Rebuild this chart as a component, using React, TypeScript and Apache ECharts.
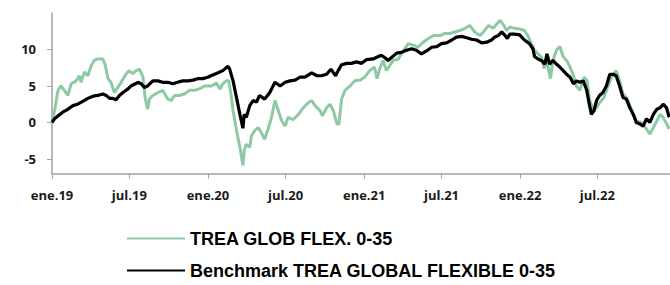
import React, { useEffect, useRef } from "react";
import * as echarts from "echarts";

const fundName = "TREA GLOB FLEX. 0-35";
const benchName = "Benchmark TREA GLOBAL FLEXIBLE 0-35";

const fundDates = [
  "2019-01-01","2019-01-07","2019-01-15","2019-01-22","2019-01-30","2019-02-07","2019-02-15","2019-02-27","2019-03-06","2019-03-10",
  "2019-03-18","2019-03-26","2019-04-03","2019-04-10","2019-04-18","2019-04-30","2019-05-05","2019-05-12","2019-05-19","2019-05-27",
  "2019-06-04","2019-06-12","2019-06-24","2019-07-01","2019-07-09","2019-07-17","2019-07-25","2019-08-02","2019-08-07","2019-08-13",
  "2019-08-17","2019-08-25","2019-09-06","2019-09-17","2019-09-29","2019-10-07","2019-10-15","2019-10-26","2019-11-07","2019-11-19",
  "2019-11-30","2019-12-12","2019-12-24","2020-01-09","2020-01-21","2020-01-29","2020-02-05","2020-02-13","2020-02-19","2020-02-24",
  "2020-02-29","2020-03-08","2020-03-16","2020-03-23","2020-03-26","2020-03-31","2020-04-08","2020-04-12","2020-04-20","2020-04-28",
  "2020-05-05","2020-05-13","2020-05-21","2020-05-29","2020-06-06","2020-06-14","2020-06-22","2020-06-30","2020-07-07","2020-07-19",
  "2020-07-31","2020-08-11","2020-08-23","2020-08-31","2020-09-08","2020-09-20","2020-09-25","2020-10-05","2020-10-13","2020-10-21",
  "2020-10-29","2020-11-03","2020-11-09","2020-11-17","2020-11-29","2020-12-10","2020-12-22","2021-01-02","2021-01-14","2021-01-25",
  "2021-01-31","2021-02-06","2021-02-14","2021-02-22","2021-03-02","2021-03-10","2021-03-22","2021-03-29","2021-04-14","2021-04-26",
  "2021-05-07","2021-05-19","2021-05-31","2021-06-12","2021-06-28","2021-07-09","2021-07-21","2021-08-01","2021-08-13","2021-08-25",
  "2021-09-05","2021-09-17","2021-09-29","2021-10-07","2021-10-19","2021-10-30","2021-11-15","2021-11-24","2021-11-30","2021-12-08",
  "2021-12-19","2021-12-31","2022-01-11","2022-01-19","2022-01-27","2022-02-04","2022-02-12","2022-02-20","2022-02-26","2022-03-05",
  "2022-03-13","2022-03-19","2022-03-27","2022-04-04","2022-04-12","2022-04-20","2022-04-28","2022-05-06","2022-05-13","2022-05-21",
  "2022-05-31","2022-06-07","2022-06-13","2022-06-21","2022-06-29","2022-07-06","2022-07-16","2022-07-26","2022-08-03","2022-08-14",
  "2022-08-22","2022-08-30","2022-09-07","2022-09-15","2022-09-23","2022-09-30","2022-10-12","2022-10-24","2022-11-01","2022-11-09",
  "2022-11-17","2022-11-25","2022-12-02","2022-12-10","2022-12-16"
];
const fundValues = [
  -0.2,1.6,4.4,5.0,4.4,3.7,5.3,5.7,6.4,5.5,
  6.9,6.4,7.8,8.5,8.7,8.7,8.0,6.0,5.5,4.1,
  4.8,5.5,6.7,7.1,6.7,7.1,7.3,6.2,3.4,1.8,
  3.2,3.7,4.1,4.4,3.2,3.0,3.7,3.7,3.9,4.4,
  4.4,4.6,5.0,5.0,5.4,4.6,5.3,5.7,5.7,3.9,
  1.6,-1.1,-3.4,-5.9,-3.9,-3.0,-3.4,-1.8,-1.1,-0.7,
  -1.4,-2.3,-0.9,0.7,3.0,1.6,0.2,-0.5,0.7,0.4,
  1.1,2.0,2.7,3.0,2.3,1.6,0.9,2.0,2.5,1.6,
  -0.2,-0.2,3.2,4.4,5.0,5.7,5.8,6.2,7.1,7.6,
  6.0,7.3,8.5,7.1,7.8,8.5,8.7,9.4,10.8,10.6,
  10.3,11.0,11.5,11.9,11.9,12.2,12.2,12.4,12.6,12.9,
  13.3,12.4,11.9,12.4,13.3,12.9,14.0,13.3,12.6,13.1,
  12.9,12.8,12.6,11.9,10.8,9.9,9.4,9.0,7.4,8.3,
  6.0,8.5,9.9,10.4,9.0,8.5,7.6,6.4,5.0,4.4,
  6.2,5.7,3.0,1.8,2.0,2.7,3.4,5.0,6.2,7.1,
  5.7,3.9,3.4,2.3,1.1,0.2,0.0,-0.9,-1.6,-0.7,
  0.2,1.1,0.7,-0.2,-0.9
];

const benchDates = [
  "2019-01-01","2019-01-07","2019-01-15","2019-01-26","2019-02-07","2019-02-19","2019-03-02","2019-03-14","2019-03-26","2019-04-07",
  "2019-04-18","2019-04-30","2019-05-08","2019-05-16","2019-05-23","2019-05-31","2019-06-08","2019-06-16","2019-06-28","2019-07-05",
  "2019-07-15","2019-07-21","2019-07-29","2019-08-05","2019-08-13","2019-08-25","2019-09-06","2019-09-17","2019-09-29","2019-10-11",
  "2019-10-22","2019-11-03","2019-11-15","2019-11-27","2019-12-08","2019-12-20","2020-01-01","2020-01-08","2020-01-25","2020-02-05",
  "2020-02-17","2020-02-21","2020-02-29","2020-03-08","2020-03-16","2020-03-23","2020-03-26","2020-03-31","2020-04-08","2020-04-16",
  "2020-04-24","2020-05-01","2020-05-13","2020-05-25","2020-06-06","2020-06-18","2020-06-30","2020-07-11","2020-07-23","2020-08-04",
  "2020-08-15","2020-08-31","2020-09-12","2020-09-23","2020-10-05","2020-10-15","2020-10-26","2020-11-01","2020-11-09","2020-11-21",
  "2020-12-02","2020-12-14","2020-12-26","2021-01-06","2021-01-22","2021-02-02","2021-02-10","2021-02-18","2021-02-26","2021-03-06",
  "2021-03-18","2021-03-29","2021-04-10","2021-04-22","2021-05-03","2021-05-15","2021-05-27","2021-06-08","2021-06-20","2021-07-01",
  "2021-07-13","2021-07-25","2021-08-05","2021-08-17","2021-08-29","2021-09-09","2021-09-21","2021-10-03","2021-10-15","2021-10-26",
  "2021-11-03","2021-11-11","2021-11-19","2021-11-27","2021-12-02","2021-12-08","2021-12-19","2021-12-31","2022-01-11","2022-01-23",
  "2022-01-31","2022-02-04","2022-02-12","2022-02-20","2022-02-28","2022-03-05","2022-03-11","2022-03-19","2022-03-27","2022-04-04",
  "2022-04-12","2022-04-20","2022-04-28","2022-05-06","2022-05-13","2022-05-21","2022-05-29","2022-06-06","2022-06-12","2022-06-17",
  "2022-06-23","2022-06-29","2022-07-06","2022-07-14","2022-07-22","2022-07-30","2022-08-07","2022-08-14","2022-08-22","2022-08-30",
  "2022-09-07","2022-09-15","2022-09-23","2022-09-30","2022-10-08","2022-10-16","2022-10-24","2022-11-01","2022-11-09","2022-11-17",
  "2022-11-25","2022-12-02","2022-12-10","2022-12-16"
];
const benchValues = [
  0.0,0.5,0.9,1.4,1.8,2.3,2.5,2.9,3.3,3.6,
  3.7,3.9,3.7,3.3,3.3,3.1,3.7,4.1,4.6,5.0,
  5.3,5.5,5.3,4.8,5.0,5.7,5.7,5.5,5.5,5.3,
  5.5,5.7,5.7,5.8,6.0,6.0,6.2,6.4,6.8,7.1,
  7.7,7.3,5.7,3.4,1.1,-0.8,1.1,0.7,2.3,3.0,
  2.8,3.7,3.2,4.1,5.5,5.0,5.5,5.7,5.8,6.2,
  6.2,6.8,6.4,6.4,6.6,7.3,6.4,7.1,7.9,8.1,
  8.1,8.3,8.1,8.6,8.7,9.0,9.2,8.9,8.5,8.9,
  9.5,9.6,9.9,10.1,9.9,9.4,9.8,10.3,10.4,10.8,
  10.9,11.3,11.7,11.8,11.6,11.4,11.3,10.9,11.0,11.3,
  11.7,11.9,12.4,11.9,11.5,12.1,12.1,12.0,11.3,10.8,
  10.1,9.0,8.7,8.5,8.0,9.4,8.0,8.5,8.0,7.6,
  7.1,6.6,6.2,5.3,5.7,5.5,5.7,4.4,2.5,1.1,
  1.6,3.0,3.7,4.1,5.0,6.6,6.6,6.4,5.0,3.4,
  3.2,2.0,1.1,0.0,-0.2,-0.5,0.5,0.0,1.1,1.8,
  2.0,2.5,2.0,0.7
];

const tickDates = ["2019-01-01","2019-07-01","2020-01-01","2020-07-01","2021-01-01","2021-07-01","2022-01-01","2022-07-01"];
const tickLabels = ["ene.19","jul.19","ene.20","jul.20","ene.21","jul.21","ene.22","jul.22"];
const yTickValues = [-5, 0, 5, 10];

const xMin = "2019-01-01";
const xMax = "2022-12-18";
const yMin = -7;
const yMax = 15;

const toTs = (s: string) => {
  const [y, m, d] = s.split("-").map(Number);
  return Date.UTC(y, m - 1, d);
};

export default function App() {
  const ref = useRef<HTMLDivElement>(null);
  useEffect(() => {
    document.body.style.margin = "0";
    if (!ref.current) return;
    const chart = echarts.init(ref.current, null, { renderer: "svg" });
    const tickTs = tickDates.map(toTs);
    const labelFont = {
      fontFamily: "Open Sans",
      fontWeight: "bold" as const,
      fontSize: 13,
      color: "#1a1a1a",
    };
    const legendText = {
      fontFamily: "Liberation Sans",
      fontWeight: "bold" as const,
      fontSize: 18,
      color: "#000",
      lineHeight: 18,
    };
    const legendIcon = "path://M0,6 L58,6 L58,8 L0,8 Z";
    chart.setOption({
      animation: false,
      grid: { left: 52, right: 0, top: 13, bottom: 111.5, containLabel: false },
      xAxis: {
        type: "value",
        min: toTs(xMin),
        max: toTs(xMax),
        splitLine: { show: false },
        axisLine: { show: true, onZero: false, lineStyle: { color: "#a0a0a0", width: 1.5 } },
        axisTick: { show: true, customValues: tickTs, length: 5, lineStyle: { color: "#a0a0a0", width: 1 } },
        axisLabel: {
          ...labelFont,
          margin: 15,
          customValues: tickTs,
          formatter: (v: number) => {
            const i = tickTs.indexOf(v);
            return i >= 0 ? tickLabels[i] : "";
          },
        },
      },
      yAxis: {
        type: "value",
        min: yMin,
        max: yMax,
        splitLine: { show: false },
        axisLine: { show: true, lineStyle: { color: "#a0a0a0", width: 1.5 } },
        axisTick: { show: true, customValues: yTickValues, length: 5, lineStyle: { color: "#a0a0a0", width: 1 } },
        axisLabel: { ...labelFont, margin: 16, customValues: yTickValues },
      },
      legend: [
        {
          orient: "vertical",
          left: 127,
          top: 229.5,
          padding: 0,
          itemWidth: 58,
          itemHeight: 14,
          icon: legendIcon,
          data: [fundName],
          textStyle: legendText,
        },
        {
          orient: "vertical",
          left: 127,
          top: 261.5,
          padding: 0,
          itemWidth: 58,
          itemHeight: 14,
          icon: legendIcon,
          data: [benchName],
          textStyle: legendText,
        },
      ],
      series: [
        {
          name: fundName,
          type: "line",
          showSymbol: false,
          symbol: "none",
          color: "#8dcaa4",
          lineStyle: { width: 3, color: "#8dcaa4" },
          data: fundDates.map((d, i) => [toTs(d), fundValues[i]]),
        },
        {
          name: benchName,
          type: "line",
          showSymbol: false,
          symbol: "none",
          color: "#000000",
          lineStyle: { width: 3.2, color: "#000000" },
          data: benchDates.map((d, i) => [toTs(d), benchValues[i]]),
        },
      ],
    });
    return () => chart.dispose();
  }, []);
  return <div ref={ref} style={{ width: 670, height: 285 }} />;
}
